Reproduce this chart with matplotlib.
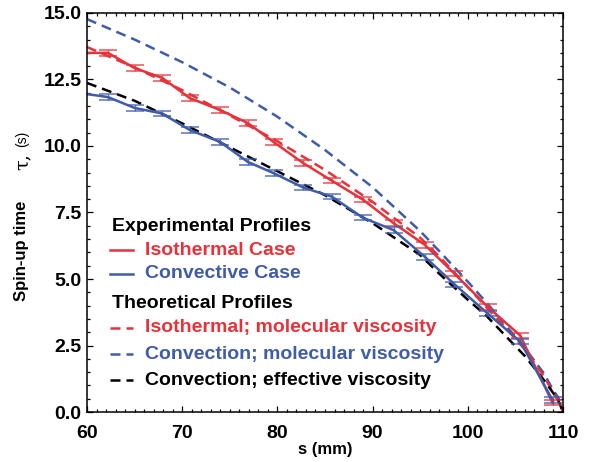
import numpy as np
import matplotlib
matplotlib.use("Agg")
import matplotlib.pyplot as plt
from matplotlib.ticker import MultipleLocator

plt.rcParams['font.family'] = ['Liberation Sans', 'DejaVu Sans']

# ---------------------------------------------------------
# Data
# ---------------------------------------------------------
# experimental profiles
s_exp = [60.0, 62.2, 65.0, 67.9, 70.8, 74.0, 76.9, 79.6, 82.7, 85.7,
         89.0, 92.2, 95.5, 98.6, 102.1, 105.5, 108.9]
iso_exp = [13.5, 13.5, 12.93, 12.56, 11.8, 11.35, 10.86, 10.15, 9.36, 8.7,
           7.98, 7.1, 6.28, 5.2, 3.95, 2.88, 0.35]
conv_exp = [11.95, 11.84, 11.43, 11.22, 10.6, 10.15, 9.40, 8.98, 8.44, 8.1,
            7.3, 6.84, 5.83, 4.8, 3.7, 2.65, 0.45]
err_exp = 0.1

# theoretical profiles
s_th = [60, 65, 70, 75, 80, 85, 90, 95, 97, 100, 102, 104, 106, 108, 109,
        109.5, 110]
iso_mol = [13.72, 12.95, 12.1, 11.15, 10.18, 9.1, 7.9, 6.55, 5.85, 4.7, 3.92,
           3.15, 2.35, 1.35, 0.7, 0.42, 0.0]
conv_mol = [14.77, 14.0, 13.15, 12.2, 11.1, 9.85, 8.45, 6.8, 6.05, 4.9, 4.1,
            3.25, 2.4, 1.45, 0.8, 0.55, 0.0]
conv_eff = [12.37, 11.7, 10.85, 9.95, 9.05, 8.15, 7.1, 5.9, 5.2, 4.22, 3.6,
            2.85, 2.1, 1.2, 0.7, 0.45, 0.0]

RED = '#e8323a'
BLUE = '#3f5bab'
dash = (0, (4, 2.4))

# ---------------------------------------------------------
# Plot
# ---------------------------------------------------------
fig = plt.figure(figsize=(5.93, 4.62), dpi=100)
ax = fig.add_axes([0.1467, 0.1082, 0.8027, 0.8637])

ax.plot(s_th, conv_mol, color=BLUE, lw=1.8, ls=dash)
ax.plot(s_th, iso_mol, color=RED, lw=1.8, ls=dash)
ax.plot(s_th, conv_eff, color='k', lw=1.8, ls=dash)

ax.plot(s_exp, iso_exp, color=RED, lw=1.8)
ax.plot(s_exp, conv_exp, color=BLUE, lw=1.8)
ax.errorbar(s_exp[1:], iso_exp[1:], yerr=err_exp, fmt='none', ecolor=RED,
            elinewidth=1.0, capsize=6.5, capthick=1.1, alpha=0.85)
ax.errorbar(s_exp[1:], conv_exp[1:], yerr=err_exp, fmt='none', ecolor=BLUE,
            elinewidth=1.0, capsize=6.5, capthick=1.1, alpha=0.85)

ax.set_xlim(60, 110)
ax.set_ylim(0, 15)
ax.xaxis.set_major_locator(MultipleLocator(10))
ax.xaxis.set_minor_locator(MultipleLocator(1))
ax.yaxis.set_major_locator(MultipleLocator(2.5))
ax.yaxis.set_minor_locator(MultipleLocator(0.5))
ax.yaxis.set_major_formatter(matplotlib.ticker.FormatStrFormatter('%.1f'))
ax.tick_params(which='both', direction='in', top=True, right=True, width=0.9)
ax.tick_params(which='major', length=4.5, labelsize=14)
ax.tick_params(axis='x', which='major', pad=9)
ax.tick_params(axis='y', which='major', pad=4)
ax.tick_params(which='minor', length=2.5)
for lab in ax.get_xticklabels() + ax.get_yticklabels():
    lab.set_fontweight('bold')
for sp in ax.spines.values():
    sp.set_linewidth(1.1)

ax.set_xlabel('s (mm)', fontsize=12, fontweight='bold', labelpad=0)
ax.text(-0.138, 0.405, 'Spin-up time', transform=ax.transAxes, rotation=90,
        ha='center', va='center', fontsize=12, fontweight='bold')
ax.text(-0.136, 0.627, 'τ,', transform=ax.transAxes, rotation=90,
        ha='center', va='center', fontsize=14, family='DejaVu Serif')
ax.text(-0.136, 0.684, '(s)', transform=ax.transAxes, rotation=90,
        ha='center', va='center', fontsize=10)

# ---------------------------------------------------------
# Legend (drawn by hand)
# ---------------------------------------------------------
hx = [0.048, 0.097]
tx = 0.122
fs = 14
ax.text(0.052, 0.464, 'Experimental Profiles', transform=ax.transAxes,
        fontsize=fs, fontweight='bold', va='center')
ax.text(0.052, 0.273, 'Theoretical Profiles', transform=ax.transAxes,
        fontsize=fs, fontweight='bold', va='center')
entries = [
    (0.406, 'Isothermal Case', RED, '-'),
    (0.346, 'Convective Case', BLUE, '-'),
    (0.211, 'Isothermal; molecular viscosity', RED, dash),
    (0.145, 'Convection; molecular viscosity', BLUE, dash),
    (0.080, 'Convection; effective viscosity', 'k', dash),
]
for yy, label, col, ls in entries:
    ax.plot(hx, [yy, yy], color=col, lw=1.8, ls=ls, transform=ax.transAxes)
    ax.text(tx, yy, label, transform=ax.transAxes, fontsize=fs,
            fontweight='bold', color=col, va='center')

fig.savefig('out.png', dpi=100)
